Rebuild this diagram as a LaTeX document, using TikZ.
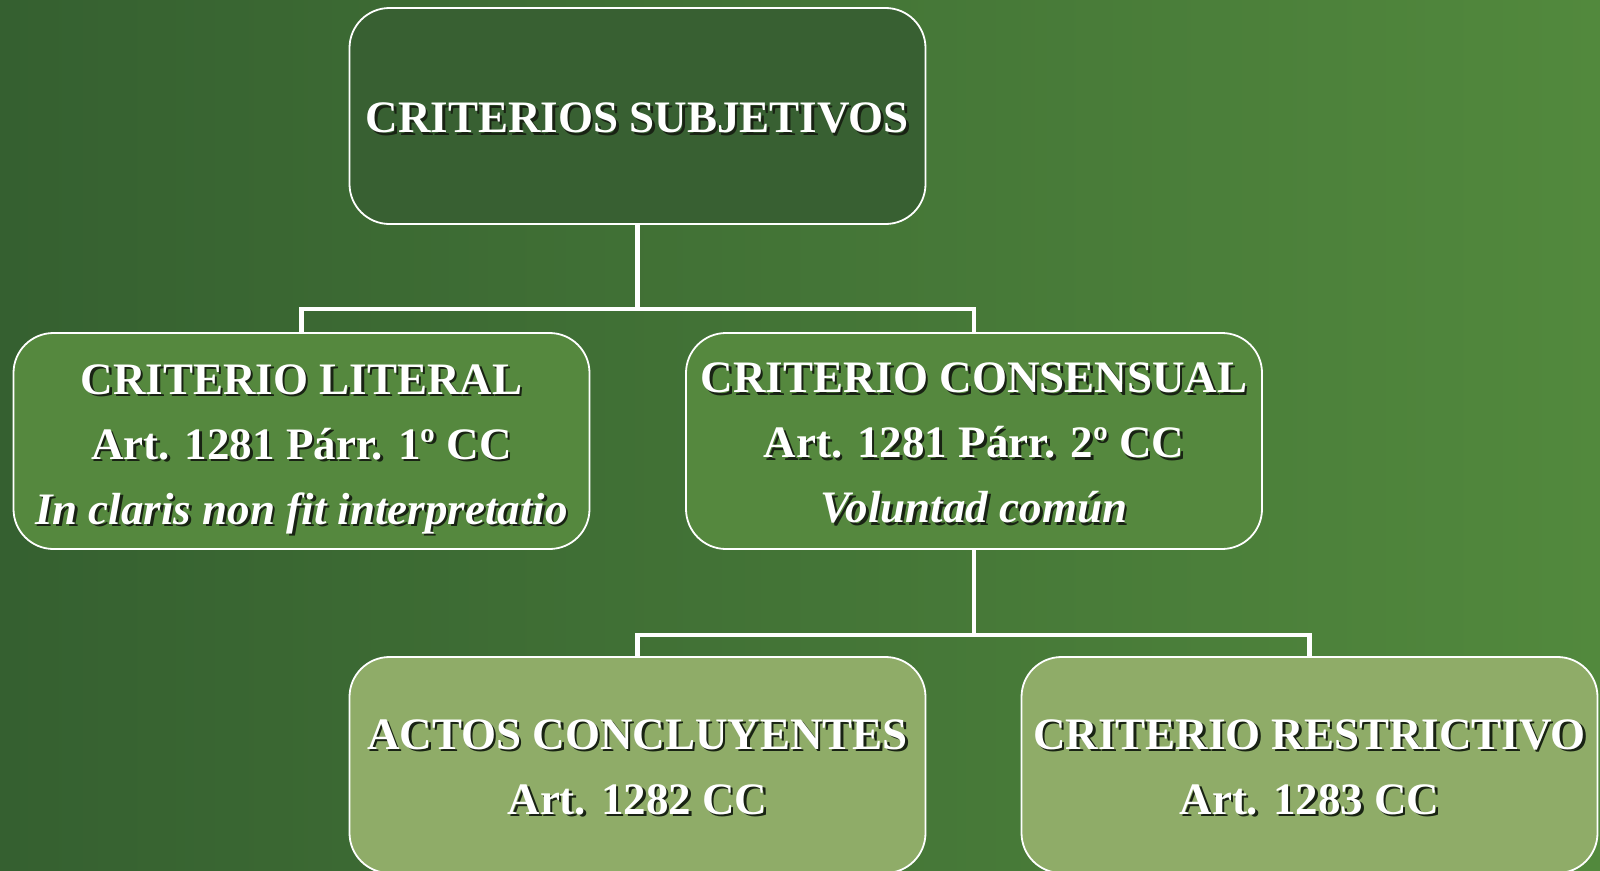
\documentclass[tikz,border=0pt]{standalone}
\usepackage{fontspec}
\setmainfont{Liberation Serif}
\definecolor{bgL}{RGB}{53,96,48}
\definecolor{bgR}{RGB}{82,137,61}
\definecolor{topfill}{RGB}{56,96,50}
\definecolor{midfill}{RGB}{85,136,62}
\definecolor{botfill}{RGB}{143,172,104}
\definecolor{shade}{RGB}{25,35,20}
\tikzset{
  x=1pt, y=-1pt,
  boxbase/.style={draw=white, line width=1.8pt, rounded corners=40pt, inner sep=0pt,
    minimum width=576pt, minimum height=216pt},
  topbox/.style={boxbase, fill=topfill},
  midbox/.style={boxbase, fill=midfill},
  botbox/.style={boxbase, fill=botfill},
  txt/.style={text=white, align=center, font=\fontsize{45}{65}\selectfont\bfseries, inner sep=0pt},
  shtxt/.style={txt, text=shade},
  conn/.style={draw=white, line width=4.5pt},
}
\newcommand{\boxlabel}[3][2]{%
  \node[shtxt] at ([shift={(2.5,#1+2.5)}]#2.center) {#3};
  \node[txt] at ([shift={(0,#1)}]#2.center) {#3};
}
\begin{document}
\begin{tikzpicture}
\useasboundingbox (0,0) rectangle (1600,870);
\clip (0,0) rectangle (1600,870);
\shade[left color=bgL, right color=bgR] (0,0) rectangle (1600,870);
% boxes
\node[topbox] (top) at (637.5,116) {};
\node[midbox] (lit) at (301.5,441) {};
\node[midbox] (con) at (974,441) {};
\node[botbox] (act) at (637.5,765) {};
\node[botbox] (res) at (1309.5,765) {};
% junctions
\coordinate (j1) at (637.5,309);
\coordinate (j2) at (974,635);
% connectors
\draw[conn] (top.south) -- (j1);
\draw[conn] (lit.north) |- (j1) -| (con.north);
\draw[conn] (con.south) -- (j2);
\draw[conn] (act.north) |- (j2) -| (res.north);
% labels
\boxlabel{top}{CRITERIOS SUBJETIVOS}
\boxlabel[8]{lit}{CRITERIO LITERAL\\Art. 1281 Párr. 1º CC\\\textit{In claris non fit interpretatio}}
\boxlabel{con}{CRITERIO CONSENSUAL\\Art. 1281 Párr. 2º CC\\\textit{Voluntad común}}
\boxlabel{act}{ACTOS CONCLUYENTES\\Art. 1282 CC}
\boxlabel{res}{CRITERIO RESTRICTIVO\\Art. 1283 CC}
\end{tikzpicture}
\end{document}
